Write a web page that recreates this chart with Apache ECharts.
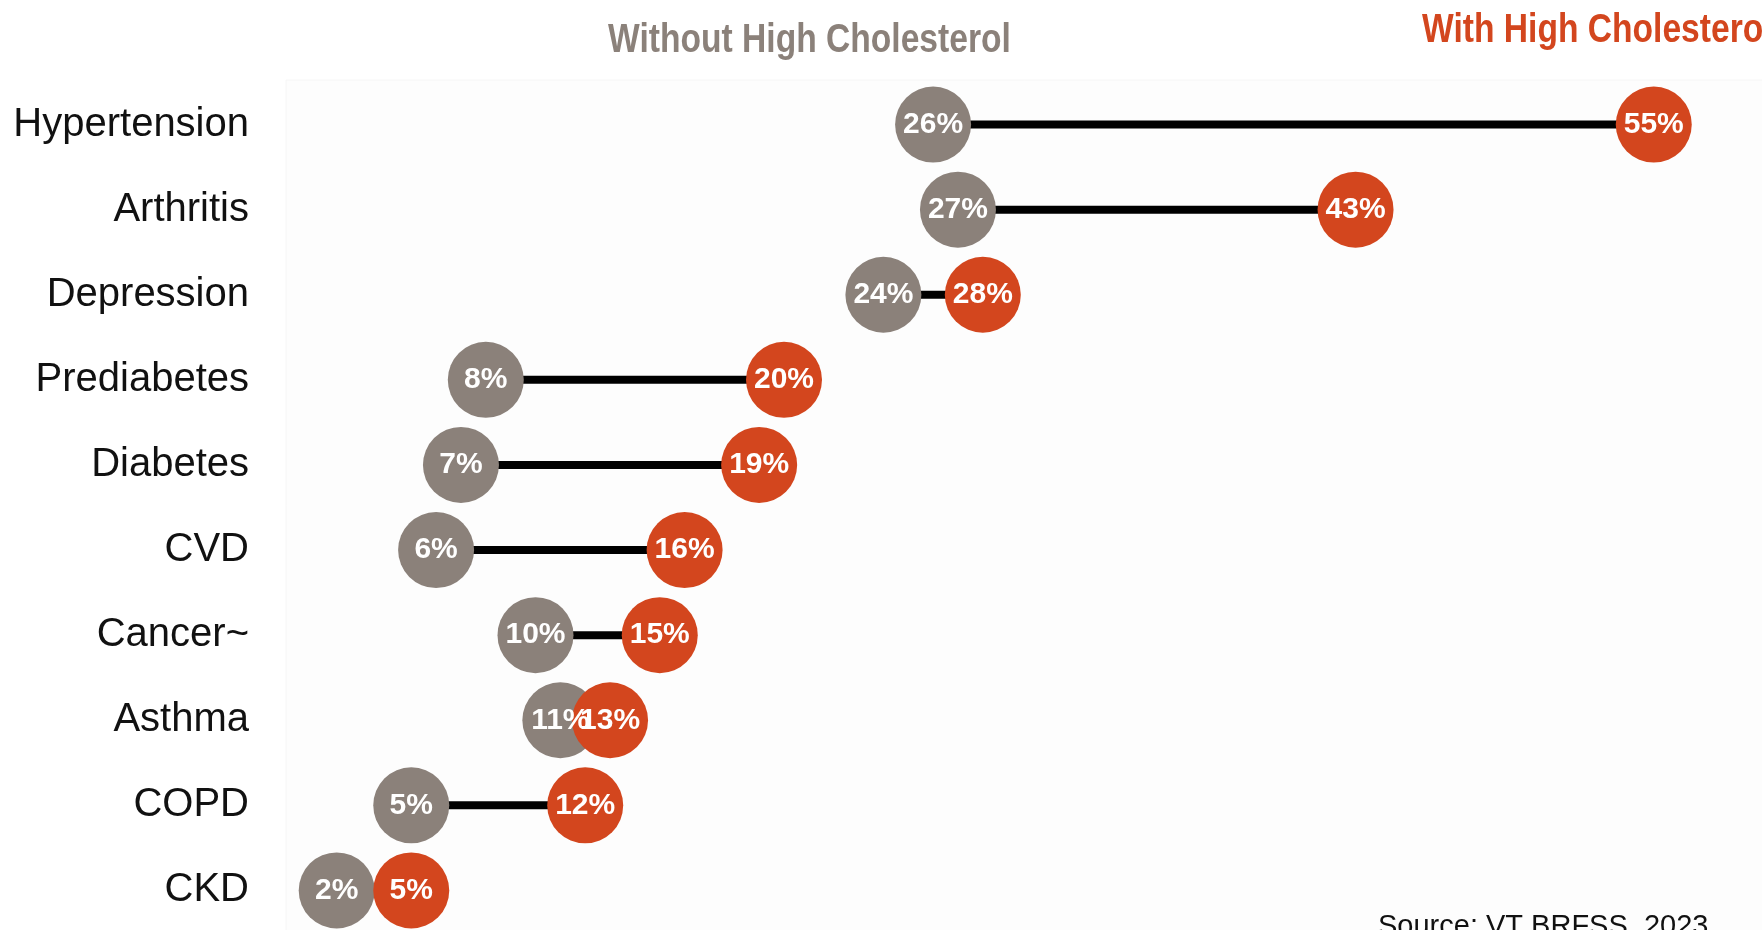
<!DOCTYPE html>
<html>
<head>
<meta charset="utf-8">
<script src="https://cdn.jsdelivr.net/npm/echarts@6/dist/echarts.min.js"></script>
<style>
  html, body { margin: 0; padding: 0; background: #ffffff; }
  #chart { width: 1762px; height: 930px; }
</style>
</head>
<body>
<div id="chart"></div>
<script>
// Prevalence of chronic conditions, by high cholesterol status (%)
const conditions = ['Hypertension', 'Arthritis', 'Depression', 'Prediabetes', 'Diabetes', 'CVD', 'Cancer~', 'Asthma', 'COPD', 'CKD'];
const withoutHighChol = [26, 27, 24, 8, 7, 6, 10, 11, 5, 2];
const withHighChol = [55, 43, 28, 20, 19, 16, 15, 13, 12, 5];

const GREY = '#8b817a';
const RED = '#d3461e';
const SANS = '"Liberation Sans", Arial, sans-serif';

const chart = echarts.init(document.getElementById('chart'), null, { renderer: 'canvas' });

const bubbleLabel = {
  show: true,
  position: 'inside',
  formatter: p => p.value[0] + '%',
  color: '#ffffff',
  fontFamily: SANS,
  fontWeight: 'bold',
  fontSize: 30
};

chart.setOption({
  animation: false,
  backgroundColor: '#ffffff',
  grid: {
    show: false,
    outerBoundsMode: 'none',
    left: 287,
    right: -16,
    top: 82,
    bottom: -3
  },
  xAxis: {
    type: 'value',
    min: 0,
    max: 60,
    show: false
  },
  yAxis: {
    type: 'category',
    data: conditions,
    inverse: true,
    axisLine: { show: false },
    axisTick: { show: false },
    splitLine: { show: false },
    axisLabel: {
      margin: 38,
      padding: [6, 0, 0, 0],
      color: '#111111',
      fontFamily: SANS,
      fontSize: 40
    }
  },
  graphic: [
    {
      // faint plotting panel
      type: 'rect',
      z: -10,
      shape: { x: 286, y: 80, width: 1480, height: 860 },
      style: { fill: '#fdfdfd', stroke: '#f6f6f6', lineWidth: 1 }
    },
    {
      type: 'text',
      x: 608,
      y: 21,
      scaleX: 0.84,
      style: {
        text: 'Without High Cholesterol',
        fill: GREY,
        font: 'bold 40px ' + SANS,
        textVerticalAlign: 'top'
      }
    },
    {
      type: 'text',
      x: 1422,
      y: 11,
      scaleX: 0.84,
      style: {
        text: 'With High Cholesterol',
        fill: RED,
        font: 'bold 40px ' + SANS,
        textVerticalAlign: 'top'
      }
    },
    {
      type: 'text',
      x: 1378,
      y: 912,
      style: {
        text: 'Source: VT BRFSS, 2023',
        fill: '#111111',
        font: '29px ' + SANS,
        textVerticalAlign: 'top'
      }
    }
  ],
  series: [
    {
      // connector between the two estimates for each condition
      type: 'custom',
      z: 1,
      data: conditions.map((c, i) => [withoutHighChol[i], withHighChol[i], i]),
      encode: { x: [0, 1], y: 2 },
      renderItem: (params, api) => {
        const a = api.coord([api.value(0), api.value(2)]);
        const b = api.coord([api.value(1), api.value(2)]);
        return {
          type: 'line',
          shape: { x1: a[0], y1: a[1], x2: b[0], y2: b[1] },
          style: { stroke: '#000000', lineWidth: 8 }
        };
      }
    },
    {
      name: 'Without High Cholesterol',
      type: 'scatter',
      z: 2,
      symbol: 'circle',
      symbolSize: 76,
      itemStyle: { color: GREY, opacity: 1 },
      label: bubbleLabel,
      data: conditions.map((c, i) => [withoutHighChol[i], c])
    },
    {
      name: 'With High Cholesterol',
      type: 'scatter',
      z: 2,
      symbol: 'circle',
      symbolSize: 76,
      itemStyle: { color: RED, opacity: 1 },
      label: bubbleLabel,
      data: conditions.map((c, i) => [withHighChol[i], c])
    }
  ]
});
</script>
</body>
</html>
